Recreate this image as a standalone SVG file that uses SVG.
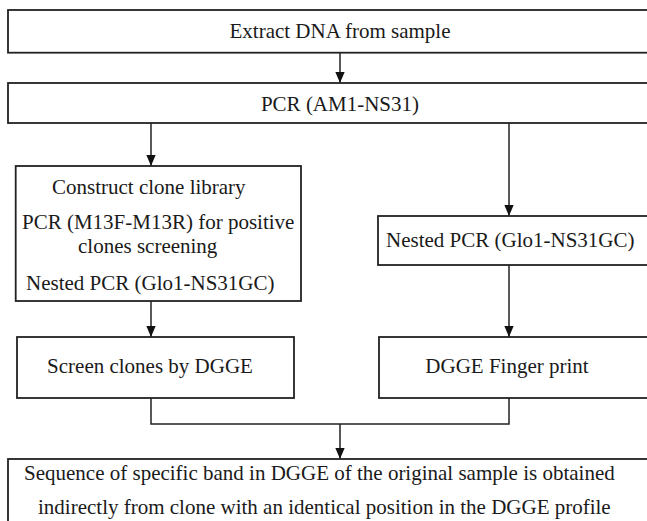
<svg xmlns="http://www.w3.org/2000/svg" width="647" height="521" viewBox="0 0 647 521">
<style>
.box{fill:#fff;stroke:#222;stroke-width:1.8}
.t{font-family:"Liberation Serif","Times New Roman",serif;font-size:21px;fill:#1a1a1a}
.c{stroke:#222;stroke-width:1.5;fill:none}
</style>
<defs>
<marker id="arr" markerWidth="11" markerHeight="13" refX="13" refY="5.5" orient="auto" markerUnits="userSpaceOnUse" viewBox="0 0 13 11">
<path d="M0,0 L13,5.5 L0,11 Z" fill="#111"/>
</marker>
</defs>
<rect width="647" height="521" fill="#fff"/>
<g id="connectors">
<line class="c" x1="340" y1="52.7" x2="340" y2="83" marker-end="url(#arr)"/>
<line class="c" x1="151" y1="123" x2="151" y2="166" marker-end="url(#arr)"/>
<line class="c" x1="509" y1="123" x2="509" y2="216" marker-end="url(#arr)"/>
<line class="c" x1="151" y1="301" x2="151" y2="337" marker-end="url(#arr)"/>
<line class="c" x1="509" y1="265" x2="509" y2="337" marker-end="url(#arr)"/>
<polyline class="c" points="151,398 151,424 509,424 509,398"/>
<line class="c" x1="340" y1="424" x2="340" y2="459" marker-end="url(#arr)"/>
</g>
<g id="n1"><rect class="box" x="8" y="10" width="650" height="42.7"/><text class="t" x="340" y="38" text-anchor="middle">Extract DNA from sample</text></g>
<g id="n2"><rect class="box" x="8" y="83" width="650" height="40"/><text class="t" x="340" y="110.5" text-anchor="middle">PCR (AM1-NS31)</text></g>
<g id="n3"><rect class="box" x="15.7" y="166" width="285.3" height="135"/>
<text class="t" x="52" y="194">Construct clone library</text>
<text class="t" x="22" y="229">PCR (M13F-M13R) for positive</text>
<text class="t" x="78" y="253">clones screening</text>
<text class="t" x="26" y="290">Nested PCR (Glo1-NS31GC)</text></g>
<g id="n4"><rect class="box" x="378" y="216" width="290" height="49"/><text class="t" x="386" y="247">Nested PCR (Glo1-NS31GC)</text></g>
<g id="n5"><rect class="box" x="17" y="337" width="277" height="61"/><text class="t" x="150" y="373" text-anchor="middle">Screen clones by DGGE</text></g>
<g id="n6"><rect class="box" x="379" y="337" width="290" height="61"/><text class="t" x="507" y="373" text-anchor="middle">DGGE Finger print</text></g>
<g id="n7"><rect class="box" x="8" y="459" width="660" height="80"/>
<text class="t" x="24" y="480">Sequence of specific band in DGGE of the original sample is obtained</text>
<text class="t" x="38" y="514">indirectly from clone with an identical position in the DGGE profile</text></g>
</svg>
